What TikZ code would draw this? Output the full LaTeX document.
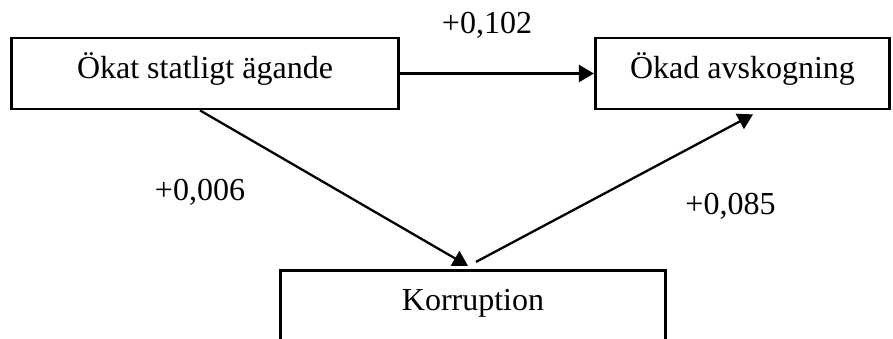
\documentclass[tikz,border=0pt]{standalone}
\usepackage{fontspec}
\setmainfont{Liberation Serif}
\usetikzlibrary{arrows.meta,calc}
\begin{document}
\begin{tikzpicture}[x=0.5pt,y=-0.5pt,
 box/.style={draw,line width=1.4pt,rectangle,inner xsep=0pt,inner ysep=0pt,
   text height=20pt,text depth=15.5pt,font=\fontsize{16}{19}\selectfont},
 conn/.style={line width=1.15pt,-{Triangle[length=7.5pt,width=8.5pt]}},
 lab/.style={anchor=base,inner sep=0pt,font=\fontsize{16}{19}\selectfont}]
\useasboundingbox (0,0) rectangle (893,338);
\clip (0,0) rectangle (893,338);
\node[box,minimum width=193.7pt] (a) at (205,73.5) {Ökat statligt ägande};
\node[box,minimum width=147.2pt] (b) at (742.5,73.5) {Ökad avskogning};
\node[box,minimum width=192.7pt] (k) at (473,305.8) {Korruption};
\draw[conn] (a) -- (b);
\draw[conn] ($(a.south)+(-5,0)$) -- ($(k.north)+(-5,-3)$);
\draw[conn] ($(k.north)+(3,-7)$) -- ($(b.south)+(10.5,4)$);
\node[lab] (l1) at (487,33) {+0,102};
\node[lab] (l2) at (200,200) {+0,006};
\node[lab] (l3) at (730.5,214) {+0,085};
\end{tikzpicture}
\end{document}
